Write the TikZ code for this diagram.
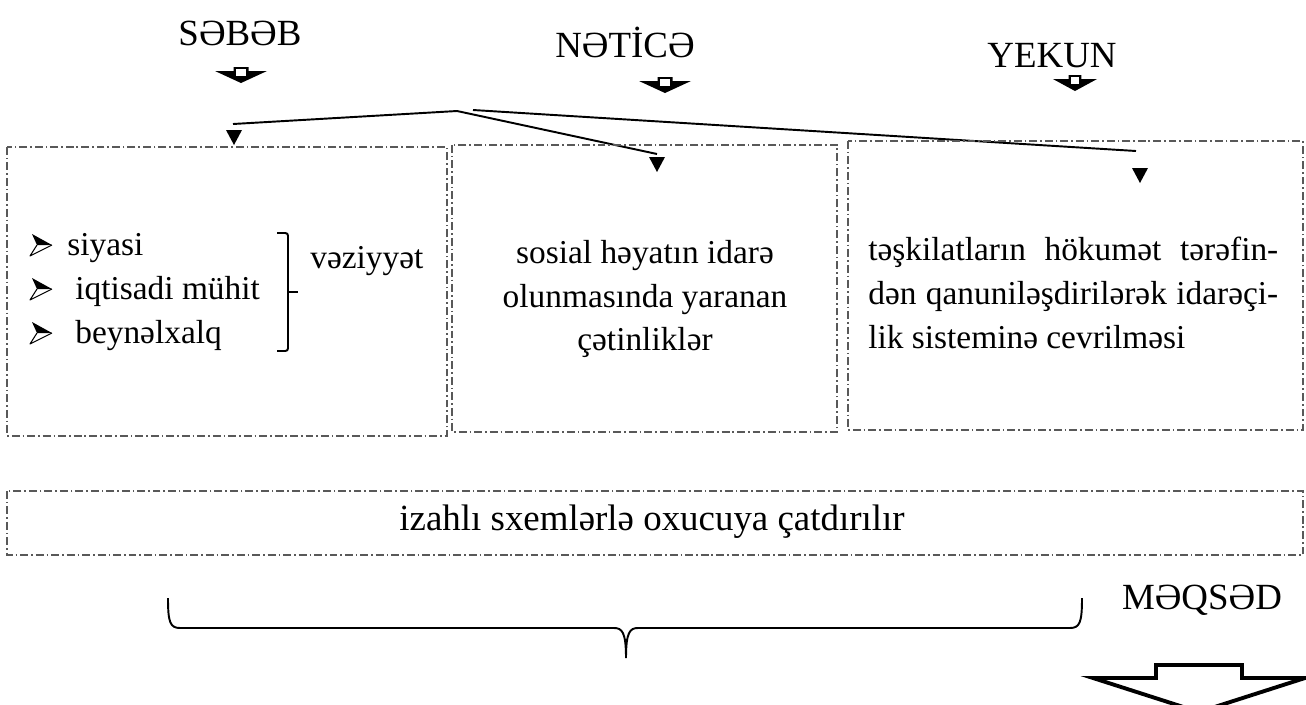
\documentclass[tikz,border=0pt]{standalone}
\usepackage{fontspec}
\setmainfont{Liberation Serif}
\tikzset{
	riquadro/.style={draw=black!65, line width=0.6pt, dash pattern=on 4.5pt off 1.7pt on 0.9pt off 1.7pt},
	titolo/.style={font=\fontsize{21}{25}\selectfont, inner sep=0pt},
	testo/.style={font=\fontsize{19}{25}\selectfont, inner sep=0pt},
	linea/.style={line width=1.1pt},
	pics/freccina/.style={code={
		\fill (-7.5,0) -- (7.5,0) -- (7.5,4) -- (26,4) -- (0,16) -- (-26,4) -- (-7.5,4) -- cycle;
		\fill[white] (-5,1.5) rectangle (5,9);
	}},
	pics/punta/.style={code={\fill (-8,0) -- (8,0) -- (0,15) -- cycle;}},
	pics/puntino/.style={code={
		\fill (22,0) -- (2,-11) -- (7,0) -- cycle;
		\draw[line width=0.6pt, line join=round] (22,0) -- (0,11) -- (7,0);
	}}
}
\begin{document}
\begin{tikzpicture}[x=0.02cm,y=-0.02cm]
	\useasboundingbox (0,0) rectangle (1306,704);
	\clip (0,0) rectangle (1306,704);

	% Intestazioni con le frecce piccole
	\node[titolo, anchor=base] (sabab) at (240,45) {SƏBƏB};
	\node[titolo, anchor=base] (natica) at (625,57) {NƏTİCƏ};
	\node[titolo, anchor=base] (yekun) at (1052,67) {YEKUN};
	\pic at (241,67) {freccina};
	\pic at (665,77) {freccina};
	\pic[xscale=0.85] at (1075,75) {freccina};

	% Linee che partono dal punto comune
	\coordinate (hub) at (457,111);
	\coordinate (hubb) at (473,110);
	\coordinate (c1) at (233,124);
	\coordinate (c2) at (657,154);
	\coordinate (c3) at (1136,151);
	\draw[linea] (hub) -- (c1);
	\draw[linea] (hub) -- (c2);
	\draw[linea] (hubb) -- (c3);
	\pic at (234,130) {punta};
	\pic at (657,157) {punta};
	\pic at (1140,168) {punta};

	% Riquadri
	\draw[riquadro] (7,147) rectangle (447,436);
	\draw[riquadro] (452,145) rectangle (837,432);
	\draw[riquadro] (848,141) rectangle (1303,430);
	\draw[riquadro] (7,491) rectangle (1303,555);

	% Primo riquadro: elenco e parentesi
	\foreach \y/\voce/\dx in {255/siyasi/67, 299/iqtisadi mühit/75, 343/beynəlxalq/75}{
		\node[testo, anchor=base west] at (\dx,\y) {\voce};
		\pic at (30,\y-10) {puntino};
	}
	\draw[linea, rounded corners=1.5pt] (277,233) -- (288,233) -- (288,351) -- (277,351);
	\draw[linea] (288,292) -- (298,292);
	\node[testo, anchor=base west] (vaz) at (310,268) {vəziyyət};

	% Secondo e terzo riquadro
	\node[testo, align=center] (natice) at (645,299) {sosial həyatın idarə\\olunmasında yaranan\\çətinliklər};
	\node[testo, text width=8.2cm, align=justify, anchor=west] (tesk) at (868,293)
		{\hyphenpenalty=10000 təşkilatların hökumət tərəfin-\linebreak dən qanuniləşdirilərək idarəçi-\linebreak lik sisteminə cevrilməsi};

	% Riquadro lungo
	\node[titolo] (izah) at (652,522) {izahlı sxemlərlə oxucuya çatdırılır};

	% Graffa e MƏQSƏD
	\draw[linea] (168,598) .. controls (168,622) and (170,628) .. (180,628) -- (614,628)
		.. controls (622,628) and (626,632) .. (626,658)
		.. controls (626,632) and (630,628) .. (638,628) -- (1070,628)
		.. controls (1080,628) and (1082,622) .. (1082,598);
	\node[titolo, anchor=base] (maqsad) at (1202,609) {MƏQSƏD};
	\draw[line width=2.2pt, fill=white] (1156,678) -- (1156,665) -- (1242,665) -- (1242,678) -- (1305,678) -- (1199,712) -- (1093,678) -- cycle;
\end{tikzpicture}
\end{document}
